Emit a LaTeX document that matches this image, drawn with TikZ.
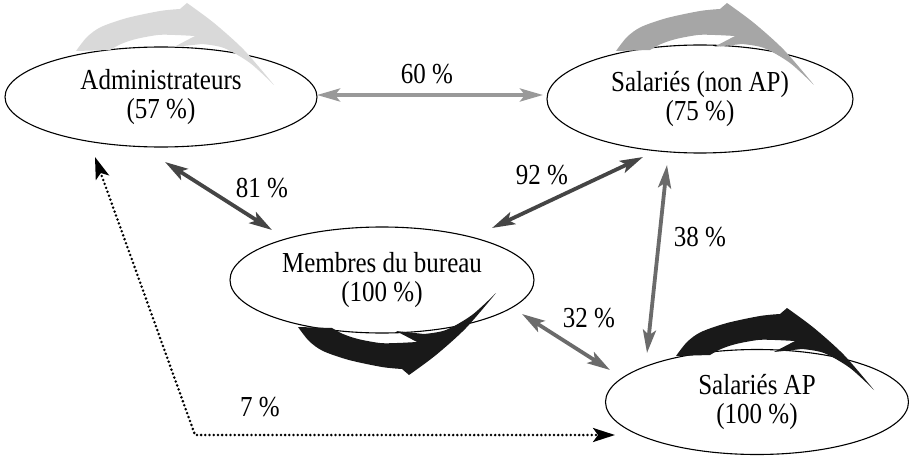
\documentclass[tikz,border=0pt]{standalone}
\usepackage{fontspec}
\setmainfont{Liberation Serif}
\usetikzlibrary{shapes.geometric,arrows.meta,calc}
\definecolor{gLight}{gray}{0.85}
\definecolor{gMid}{gray}{0.65}
\definecolor{gDark}{gray}{0.1}
\definecolor{lnLight}{gray}{0.6}
\definecolor{lnMid}{gray}{0.42}
\definecolor{lnDark}{gray}{0.27}
\newcommand\tallt[1]{\scalebox{1}[1.16]{#1}}
\tikzset{
  bigarr/.pic={
    \path[pic actions]
      plot[smooth] coordinates {(76,51) (87,37) (101,27) (127,18) (160,11) (180,9)}
      -- (187,3)
      -- plot[smooth] coordinates {(187,3) (214,23) (244,50) (274,85)}
      -- plot[smooth] coordinates {(274,85) (250,63) (224,48) (202,44)}
      -- (174,47)
      -- plot[smooth] coordinates {(195,36) (175,35) (158,35) (136,39) (121,44) (110,50)}
      -- cycle;
  }
}
\begin{document}
\begin{tikzpicture}[x=1pt,y=-1pt,
  every node/.style={font=\fontsize{25}{28.5}\selectfont},
  ell/.style={ellipse, draw, line width=1.1pt, inner sep=0pt, align=center},
  tipS/.tip={Stealth[length=23pt,width=13pt,inset=5pt]},
  link/.style={line width=3.8pt, tipS-tipS},
  tipD/.tip={Stealth[length=22pt,width=14pt,inset=5pt]},
  dotlink/.style={line width=2.8pt, line cap=round, dash pattern=on 0pt off 4.2pt, tipD-tipD},
  lbl/.style={inner sep=0pt}
]
\useasboundingbox (0,0) rectangle (909,457);

% ellipses
\node[ell, minimum width=312pt, minimum height=100pt] (adm) at (161,97) {\tallt{Administrateurs}\\\tallt{(57 \%)}};
\node[ell, minimum width=306pt, minimum height=108pt] (sna) at (700,99) {\tallt{Salariés (non AP)}\\\tallt{(75 \%)}};
\node[ell, minimum width=304pt, minimum height=106pt] (mem) at (382,280) {\tallt{Membres du bureau}\\\tallt{(100 \%)}};
\node[ell, minimum width=303pt, minimum height=105pt] (sap) at (757,402) {\tallt{Salariés AP}\\\tallt{(100 \%)}};

% curved self arrows
\pic[fill=gLight] at (0,0) {bigarr};
\pic[fill=gMid] at (540,0) {bigarr};
\pic[fill=gDark] at (600,305) {bigarr};
\pic[fill=gDark, yscale=-1] at (222,378) {bigarr};

% straight connectors
\draw[link, lnLight] ($(adm)+(156,-2)$) -- ($(sna)+(-157,-4)$);
\draw[link, lnDark] ($(adm)+(4,65)$) -- ($(mem)+(-110,-50)$);
\draw[link, lnDark] ($(mem)+(110,-52)$) -- ($(sna)+(-57,58)$);
\draw[link, lnMid] ($(sna)+(-33,66)$) -- ($(sap)+(-110,-49)$);
\draw[link, lnMid] ($(mem)+(140,34)$) -- ($(sap)+(-147,-32)$);

\coordinate (corner) at (195,435);
\draw[dotlink] ($(adm)+(-66,60)$) -- (corner) -- ($(sap)+(-142,33)$);

% labels
\node[lbl] (l60) at (427,74) {\tallt{60 \%}};
\node[lbl] (l81) at (262,188) {\tallt{81 \%}};
\node[lbl] (l92) at (542,175) {\tallt{92 \%}};
\node[lbl] (l38) at (700,237) {\tallt{38 \%}};
\node[lbl] (l32) at (589,318) {\tallt{32 \%}};
\node[lbl] (l7) at (260,407) {\tallt{7 \%}};
\end{tikzpicture}
\end{document}
